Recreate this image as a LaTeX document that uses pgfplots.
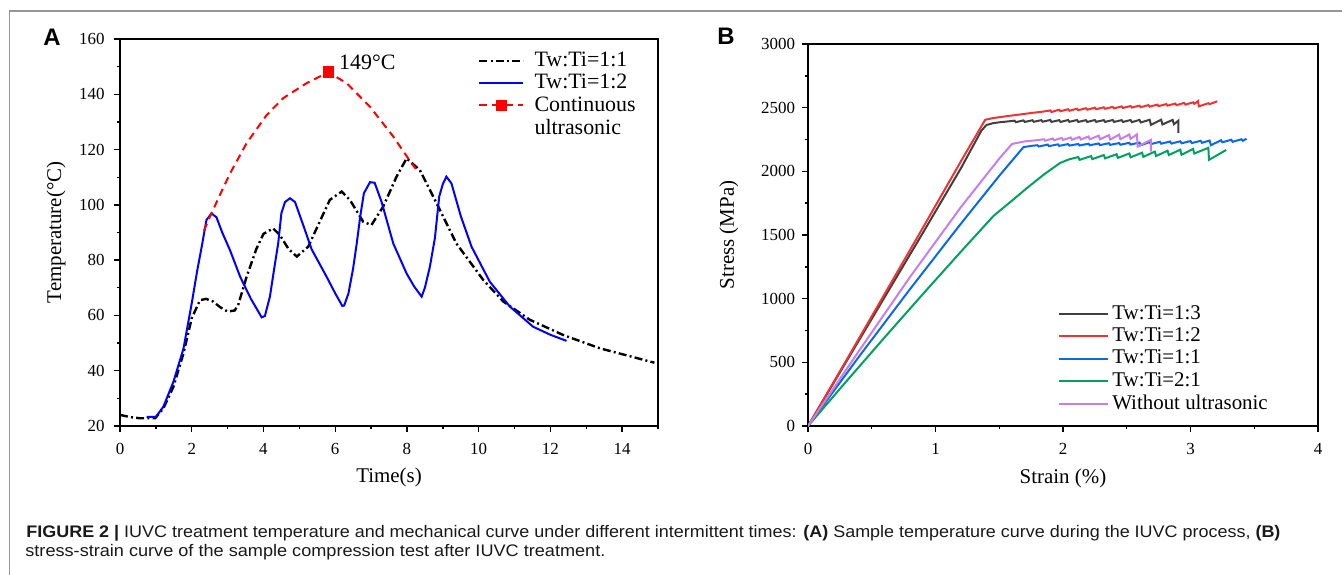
\documentclass[border=0pt]{standalone}
\usepackage{pgfplots}
\pgfplotsset{compat=1.18}
\usepackage{graphicx}
\usepackage{fontspec}
\setmainfont{Liberation Serif}
\newfontfamily\capfont{Liberation Sans}
\definecolor{bgray}{RGB}{64,64,64}
\definecolor{bred}{RGB}{240,50,50}
\definecolor{bblue}{RGB}{10,105,230}
\definecolor{bgreen}{RGB}{0,160,95}
\definecolor{bpurple}{RGB}{200,125,232}
\definecolor{framegray}{RGB}{150,150,150}
\begin{document}
\begin{tikzpicture}
\path[use as bounding box] (0,0) rectangle (671bp,-287.5bp);
\draw[framegray, line width=0.7bp] (4.75bp,-287.5bp) -- (4.75bp,-5.5bp) -- (671bp,-5.5bp);
\node[font=\capfont\bfseries\fontsize{12}{12}\selectfont] at (26bp,-18.5bp) {A};
\node[font=\capfont\bfseries\fontsize{12}{12}\selectfont] at (363bp,-18bp) {B};
\pgfplotsset{
  every axis/.append style={
    scale only axis,
    axis line style={line width=0.8bp},
    tick align=outside,
    xtick pos=bottom, ytick pos=left,
    major tick length=3bp, minor tick length=1.6bp,
    every tick/.style={line width=0.7bp, black},
    tick label style={font=\fontsize{8.5}{8.5}\selectfont},
    /pgf/number format/assume math mode=true,
    /pgf/number format/1000 sep={},
    label style={font=\fontsize{10.5}{10.5}\selectfont},
  }
}
% Panel A
\begin{axis}[
  at={(60bp,-19.5bp)}, anchor=north west,
  width=269bp, height=193.5bp,
  xmin=0, xmax=15, ymin=20, ymax=160,
  xtick={0,2,...,14}, minor xtick={1,3,...,15},
  ytick={20,40,...,160}, minor ytick={30,50,...,150},
  xticklabel style={yshift=-2bp},
  yticklabel style={xshift=-1.2bp},
  xlabel={Time(s)}, ylabel={Temperature(°C)},
  xlabel style={at={(axis description cs:0.5,0)}, anchor=center, yshift=-25.5bp},
  ylabel style={at={(axis description cs:-0.119,0.5)}, anchor=center, rotate=0},
  legend style={draw=none, fill=none, at={(rel axis cs:0.665,0.975)}, anchor=north west,
    font=\fontsize{11}{11}\selectfont, inner sep=0pt, row sep=-0.6bp,
    nodes={inner sep=1.5bp},
    /tikz/every odd column/.append style={column sep=3.5bp}},
  legend cell align=left,
  legend image code/.code={\draw[mark repeat=2,mark phase=2,#1] plot coordinates {(0bp,0bp) (11bp,0bp) (22bp,0bp)};},
]
\addplot[black, line width=1.2bp, dash pattern=on 4bp off 1.6bp on 1bp off 1.6bp] coordinates {
(0,24)(0.3,23.2)(0.56,22.8)(0.98,22.8)(1.21,26.4)(1.49,34.2)(1.77,46.3)(2.0,59)(2.23,65.5)(2.4,66)(2.6,65)(2.79,63)(3.0,61.4)(3.2,61.8)(3.3,64)(3.53,74)(3.8,84)(4.0,89.5)(4.27,91.5)(4.46,89)(4.7,84)(4.93,81.3)(5.25,84.9)(5.5,92)(5.85,101.8)(6.18,104.8)(6.41,101.8)(6.78,93.9)(7.01,92.7)(7.34,99.4)(7.71,110.2)(7.99,116.8)(8.36,112.6)(8.83,100.5)(9.38,86)(10.13,72.8)(10.69,65)(11.43,58.4)(12.36,52.9)(13.38,48.1)(14.2,45.3)(14.9,42.9)};
\addlegendentry{Tw:Ti=1:1}
\addplot[blue, line width=1bp] coordinates {
(0.74,23.3)(1.0,23.3)(1.21,27)(1.49,36)(1.77,48)(2.0,64.4)(2.15,76)(2.28,85)(2.41,94.5)(2.55,96.9)(2.69,95.5)(2.85,90)(3.07,83.5)(3.35,74)(3.65,66)(3.95,59.3)(4.04,59.8)(4.18,66.8)(4.3,77)(4.41,86)(4.5,97)(4.6,101)(4.74,102.4)(4.88,101)(5.1,93)(5.34,84)(5.76,74)(6.0,68)(6.2,63.4)(6.25,63.6)(6.37,68)(6.5,77)(6.6,86)(6.7,96)(6.8,104.2)(6.97,108.2)(7.1,108)(7.29,101.2)(7.62,86)(7.99,75.2)(8.2,70.5)(8.41,66.8)(8.5,70)(8.64,77.6)(8.78,88)(8.9,103)(9.0,107.5)(9.1,110.2)(9.24,107.8)(9.5,96)(9.8,84.9)(10.31,72.2)(10.87,63.2)(11.52,55.9)(12.0,53)(12.45,50.8)};
\addlegendentry{Tw:Ti=1:2}
\addplot[red, line width=1bp, dash pattern=on 3.8bp off 2.6bp, forget plot] coordinates {
(2.34,90.6)(2.5,95.5)(2.8,104)(3.07,111.4)(3.53,122.3)(4.09,132.5)(4.55,138.6)(5.2,144)(5.81,148)(6.32,144)(6.97,135.5)(7.62,124.7)(8.13,115)(8.25,113)};
\addplot[red, line width=1bp, dash pattern=on 3.8bp off 2.6bp, mark=square*, mark size=2.4bp, mark options={solid}] coordinates {(5.81,148)};
\addlegendentry{Continuous}
\addlegendimage{empty legend}
\addlegendentry{ultrasonic}
\node[anchor=west, font=\fontsize{11}{11}\selectfont, inner sep=0pt] at (axis cs:6.1,151.7) {149°C};
\end{axis}
% Panel B
\begin{axis}[
  at={(404bp,-22bp)}, anchor=north west,
  width=255bp, height=191bp,
  xmin=0, xmax=4, ymin=0, ymax=3000,
  xtick={0,1,2,3,4}, minor xtick={0.5,1.5,2.5,3.5},
  ytick={0,500,...,3000}, minor ytick={250,750,...,2750},
  xticklabel style={yshift=-2bp},
  xlabel={Strain (\%)}, ylabel={Stress (MPa)},
  xlabel style={at={(axis description cs:0.5,0)}, anchor=center, yshift=-26bp},
  ylabel style={at={(axis description cs:-0.155,0.5)}, anchor=center, rotate=0},
  legend style={draw=none, fill=none, at={(rel axis cs:0.49,0.325)}, anchor=north west,
    font=\fontsize{10.5}{10.5}\selectfont, inner sep=0pt, row sep=-0.2bp,
    nodes={inner sep=1.5bp}},
  legend cell align=left,
  legend image code/.code={\draw[#1] (0bp,0bp) -- (24.5bp,0bp);},
  every axis plot/.append style={line width=1bp},
]
\addplot[bgray] coordinates {
(0,0)(0.3,505)(0.6,1010)(0.9,1515)(1.2,2025)(1.36,2320)(1.40,2364)(1.45,2378)(1.5,2385)(1.55,2390)
(1.62,2398)(1.63,2386)(1.69,2400)(1.70,2388)(1.76,2401)(1.77,2389)(1.83,2402)(1.84,2390)(1.90,2403)(1.91,2388)
(1.97,2402)(1.98,2388)(2.04,2403)(2.05,2389)(2.11,2403)(2.12,2388)(2.18,2402)(2.19,2388)(2.25,2403)(2.26,2389)
(2.32,2402)(2.33,2388)(2.39,2403)(2.40,2388)(2.46,2402)(2.47,2388)(2.53,2403)(2.54,2386)(2.60,2404)(2.61,2384)
(2.68,2405)(2.69,2365)(2.77,2405)(2.78,2368)(2.86,2404)(2.87,2370)(2.905,2398)(2.905,2300)};
\addlegendentry{Tw:Ti=1:3}
\addplot[bred] coordinates {
(0,0)(0.3,515)(0.6,1035)(0.9,1555)(1.2,2080)(1.39,2405)(1.45,2418)(1.55,2432)(1.65,2445)(1.75,2458)(1.85,2470)
(1.90,2478)(1.91,2466)(1.97,2484)(1.98,2472)(2.04,2488)(2.05,2476)(2.11,2492)(2.12,2480)(2.18,2496)(2.19,2484)
(2.25,2500)(2.26,2488)(2.32,2503)(2.33,2491)(2.39,2506)(2.40,2494)(2.46,2510)(2.47,2498)(2.53,2513)(2.54,2501)
(2.60,2516)(2.61,2504)(2.67,2520)(2.68,2508)(2.74,2524)(2.75,2512)(2.81,2528)(2.82,2516)(2.88,2532)(2.89,2520)
(2.95,2537)(2.96,2524)(3.02,2542)(3.03,2530)(3.06,2552)(3.065,2510)(3.14,2535)(3.15,2528)(3.21,2550)};
\addlegendentry{Tw:Ti=1:2}
\addplot[bblue] coordinates {
(0,0)(0.4,545)(0.8,1075)(1.2,1590)(1.5,1965)(1.69,2190)(1.75,2200)
(1.80,2205)(1.81,2195)(1.88,2210)(1.89,2198)(1.96,2212)(1.97,2200)(2.04,2214)(2.05,2202)(2.12,2215)(2.13,2203)
(2.20,2217)(2.21,2205)(2.28,2219)(2.29,2206)(2.36,2221)(2.37,2208)(2.44,2222)(2.45,2209)(2.52,2224)(2.53,2210)
(2.60,2226)(2.61,2205)(2.68,2230)(2.69,2214)(2.76,2232)(2.77,2217)(2.84,2234)(2.85,2218)(2.92,2236)(2.93,2220)
(3.00,2238)(3.01,2222)(3.08,2240)(3.09,2224)(3.15,2242)(3.16,2205)(3.24,2244)(3.25,2228)(3.32,2248)(3.33,2232)
(3.40,2252)(3.41,2240)(3.44,2256)};
\addlegendentry{Tw:Ti=1:1}
\addplot[bgreen] coordinates {
(0,0)(0.3,350)(0.6,695)(0.9,1035)(1.2,1370)(1.455,1650)(1.6,1770)(1.715,1867)(1.85,1975)(1.976,2065)(2.05,2095)
(2.12,2112)(2.13,2090)(2.22,2120)(2.23,2096)(2.32,2128)(2.33,2102)(2.42,2134)(2.43,2106)(2.52,2140)(2.53,2110)
(2.62,2146)(2.63,2114)(2.72,2155)(2.73,2120)(2.82,2162)(2.83,2128)(2.92,2170)(2.93,2130)(3.02,2176)(3.03,2140)
(3.14,2185)(3.145,2090)(3.28,2168)};
\addlegendentry{Tw:Ti=2:1}
\addplot[bpurple] coordinates {
(0,0)(0.4,590)(0.8,1170)(1.2,1720)(1.5,2100)(1.6,2215)(1.7,2235)(1.8,2245)
(1.85,2252)(1.86,2240)(1.92,2258)(1.93,2244)(1.99,2262)(2.00,2246)(2.06,2266)(2.07,2248)(2.13,2270)(2.14,2250)
(2.20,2274)(2.21,2252)(2.28,2280)(2.29,2252)(2.36,2284)(2.37,2250)(2.44,2288)(2.45,2252)(2.52,2290)(2.53,2255)
(2.58,2290)(2.585,2195)(2.69,2248)(2.69,2155)};
\addlegendentry{Without ultrasonic}
\end{axis}
\node[anchor=base west, inner sep=0pt, text=black!90] at (13bp,-268.5bp) {\resizebox{627bp}{\height}{\capfont\fontsize{8.4}{8.4}\selectfont\textbf{FIGURE 2 |} IUVC treatment temperature and mechanical curve under different intermittent times: \textbf{(A)} Sample temperature curve during the IUVC process, \textbf{(B)}}};
\node[anchor=base west, inner sep=0pt, text=black!90] at (12.5bp,-278.2bp) {\resizebox{290bp}{\height}{\capfont\fontsize{8.4}{8.4}\selectfont stress-strain curve of the sample compression test after IUVC treatment.}};
\end{tikzpicture}
\end{document}
